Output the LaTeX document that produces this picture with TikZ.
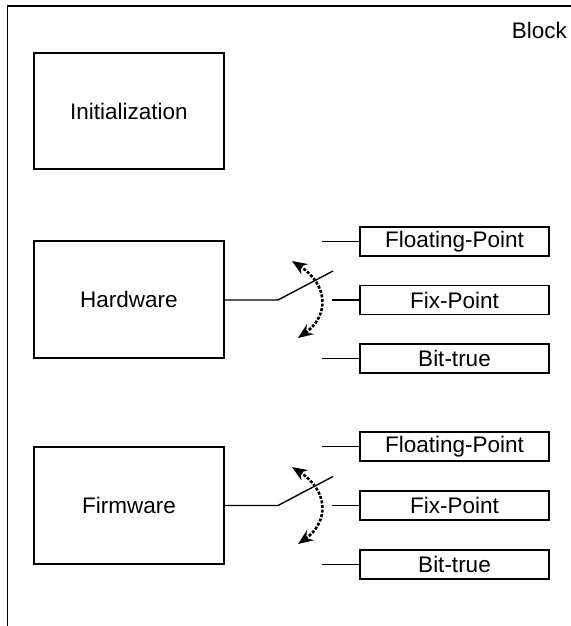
\documentclass[tikz,border=0pt]{standalone}
\usepackage{fontspec}
\setmainfont{Liberation Sans}
\usetikzlibrary{arrows.meta}
\begin{document}
\begin{tikzpicture}[x=1pt,y=-1pt,
  every node/.style={font=\fontsize{22.5}{26}\selectfont},
  bigbox/.style={draw,line width=1.4pt,minimum width=190pt,minimum height=116pt,inner sep=0pt},
  optbox/.style={draw,line width=1.4pt,minimum width=189pt,minimum height=29pt,inner sep=0pt},
  wire/.style={line width=1.4pt},
  swarrow/.style={line width=2.6pt,dash pattern=on 3pt off 1.6pt,
    {Stealth[length=15pt,width=12pt]}-{Stealth[length=15pt,width=12pt]}}
]
\useasboundingbox (0,0) rectangle (570,626);
\coordinate (frtop) at (572,6);
\coordinate (frcorner) at (7.5,6);
\coordinate (frbot) at (7.5,628);
\draw[line width=1.5pt] (frtop) -- (frcorner) -- (frbot);
\node[anchor=base east,inner sep=0pt] (blk) at (567,39) {Block};

\node[bigbox] (init) at (129,111) {Initialization};
\node[bigbox,minimum height=117pt] (hw) at (129,299.5) {Hardware};
\node[bigbox,minimum height=117pt] (fw) at (129,505.5) {Firmware};

% hardware switch
\node[optbox] (hfp) at (454.5,241.5) {Floating-Point};
\node[optbox] (hfx) at (454.5,300) {Fix-Point};
\node[optbox] (hbt) at (454.5,358.5) {Bit-true};
\coordinate (hpiv) at (278,300);
\coordinate (harm) at (333,271);
\coordinate (hc1) at (322,241.5);
\coordinate (hc2) at (332,300);
\coordinate (hc3) at (322,358.5);
\draw[wire] (hw.east |- hpiv) -- (hpiv) -- (harm);
\draw[wire] (hc1) -- (hfp.west);
\draw[wire] (hc2) -- (hfx.west);
\draw[wire] (hc3) -- (hbt.west);
\coordinate (hat) at (292,261);
\coordinate (hab) at (298,338);
\draw[swarrow] (hat) .. controls (329,285) and (329,316) .. (hab);

% firmware switch
\node[optbox] (ffp) at (454.5,446.5) {Floating-Point};
\node[optbox] (ffx) at (454.5,505.5) {Fix-Point};
\node[optbox] (fbt) at (454.5,564.5) {Bit-true};
\coordinate (fpiv) at (278,505.5);
\coordinate (farm) at (333,476.5);
\coordinate (fc1) at (322,446.5);
\coordinate (fc2) at (332,505.5);
\coordinate (fc3) at (322,564.5);
\draw[wire] (fw.east |- fpiv) -- (fpiv) -- (farm);
\draw[wire] (fc1) -- (ffp.west);
\draw[wire] (fc2) -- (ffx.west);
\draw[wire] (fc3) -- (fbt.west);
\coordinate (fat) at (292,467);
\coordinate (fab) at (298,544);
\draw[swarrow] (fat) .. controls (329,491) and (329,522) .. (fab);
\end{tikzpicture}
\end{document}
